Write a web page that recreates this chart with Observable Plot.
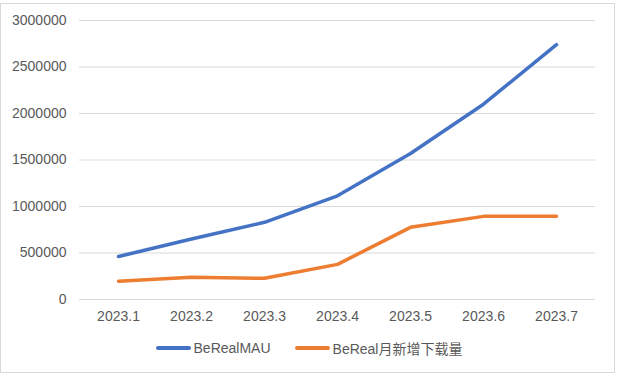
<!DOCTYPE html>
<html>
<head>
<meta charset="utf-8">
<script src="https://cdn.jsdelivr.net/npm/d3@7"></script>
<script src="https://cdn.jsdelivr.net/npm/@observablehq/plot@0.6"></script>
<style>
  body { margin: 0; background: #fff; }
  #wrap { position: relative; width: 618px; height: 377px; font-family: 'Liberation Sans', 'Noto Sans CJK SC', sans-serif; color: #595959; }
  #frame { position: absolute; left: 0; top: 3px; width: 615px; height: 370px; box-sizing: border-box; border: 1px solid #d9d9d9; }
  #chart { position: absolute; left: 0; top: 0; }
  #legend { display: flex; justify-content: center; align-items: center; gap: 24px; height: 36px; font-size: 14px; margin-left: 0px; }
  .item { display: flex; align-items: center; }
  .sw { width: 35px; height: 4px; border-radius: 2px; margin-right: 3px; }
</style>
</head>
<body>
<div id="wrap"><div id="frame"></div><div id="chart"></div></div>
<script>
const months = ["2023.1", "2023.2", "2023.3", "2023.4", "2023.5", "2023.6", "2023.7"];
const mau = [462000, 650000, 830000, 1115000, 1570000, 2100000, 2740000];
const downloads = [196000, 238000, 228000, 378000, 776000, 894000, 894000];
const seriesNames = ["BeRealMAU", "BeReal月新增下载量"];
const seriesColors = ["#4472C4", "#ED7D31"];
const yTicks = [0, 500000, 1000000, 1500000, 2000000, 2500000, 3000000];

const rows = [];
months.forEach((m, i) => {
  rows.push({month: m, value: mau[i], series: seriesNames[0]});
  rows.push({month: m, value: downloads[i], series: seriesNames[1]});
});

const plot = Plot.plot({
  width: 618,
  height: 330,
  marginTop: 20,
  marginBottom: 31,
  marginLeft: 79,
  marginRight: 23,
  style: {fontFamily: "'Liberation Sans', 'Noto Sans CJK SC', sans-serif", fontSize: "14px", color: "#595959", background: "transparent"},
  x: {type: "point", domain: months, padding: 0.5},
  y: {domain: [0, 3000000]},
  color: {domain: seriesNames, range: seriesColors},
  marks: [
    Plot.ruleY(yTicks, {stroke: "#d9d9d9", strokeWidth: 1}),
    Plot.axisY({ticks: yTicks, tickSize: 0, tickPadding: 13, tickFormat: d => String(d), label: null}),
    Plot.axisX({tickSize: 0, tickPadding: 12, label: null}),
    Plot.line(rows, {x: "month", y: "value", stroke: "series", strokeWidth: 3.5, strokeLinecap: "round", strokeLinejoin: "round"})
  ]
});

const chart = document.getElementById("chart");
chart.appendChild(plot);

const legend = document.createElement("div");
legend.id = "legend";
seriesNames.forEach((name, i) => {
  const item = document.createElement("div");
  item.className = "item";
  const sw = document.createElement("span");
  sw.className = "sw";
  sw.style.background = seriesColors[i];
  const label = document.createElement("span");
  label.textContent = name;
  item.appendChild(sw);
  item.appendChild(label);
  legend.appendChild(item);
});
chart.appendChild(legend);
</script>
</body>
</html>
